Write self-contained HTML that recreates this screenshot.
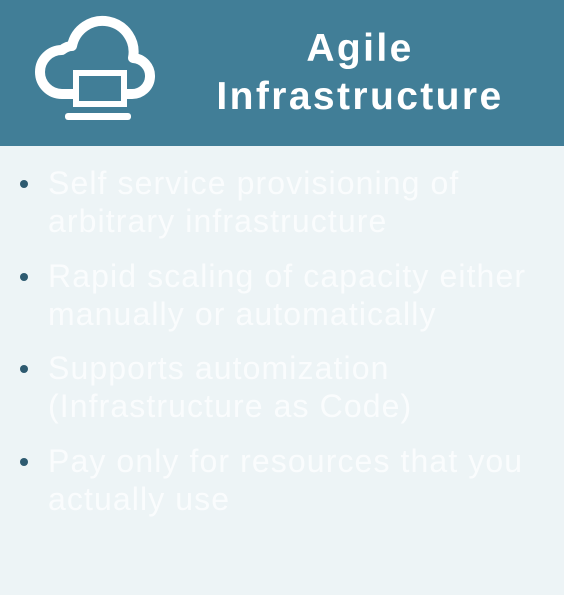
<!DOCTYPE html>
<html><head><style>
html,body{margin:0;padding:0;}
body{width:564px;height:595px;background:#edf4f6;position:relative;overflow:hidden;font-family:"Liberation Sans","DejaVu Sans",sans-serif;}
.hdr{position:absolute;left:0;top:0;width:564px;height:146px;background:#417e97;}
.title{position:absolute;left:160px;width:400px;top:25px;text-align:center;color:#fff;font-weight:bold;font-size:39px;letter-spacing:2.4px;line-height:48px;}
.item{position:absolute;left:48px;color:#fafcfd;font-size:32px;letter-spacing:1.1px;line-height:38px;white-space:nowrap;}
.dot{position:absolute;left:20px;width:8px;height:8px;border-radius:50%;background:#2d5a70;}
</style></head><body>
<div class="hdr"></div>
<svg style="position:absolute;left:0;top:0" width="200" height="146">
<path d="M73 94 H62 A18 18 0 0 1 62 50 Q67 46 72 46 A31 31 0 0 1 133 58 A18 18 0 0 1 131 94 H127" fill="none" stroke="#fff" stroke-width="10" stroke-linejoin="round"/>
<rect x="76" y="73" width="48" height="31" fill="none" stroke="#fff" stroke-width="6"/>
<rect x="65" y="113" width="66" height="7" rx="3" fill="#fff"/>
</svg>
<div class="title">Agile<br>Infrastructure</div>
<div class="dot" style="top:180px"></div>
<div class="item" style="top:164px">Self service provisioning of<br>arbitrary infrastructure</div>
<div class="dot" style="top:273px"></div>
<div class="item" style="top:257px">Rapid scaling of capacity either<br>manually or automatically</div>
<div class="dot" style="top:365px"></div>
<div class="item" style="top:349px">Supports automization<br>(Infrastructure as Code)</div>
<div class="dot" style="top:458px"></div>
<div class="item" style="top:442px">Pay only for resources that you<br>actually use</div>
</body></html>
